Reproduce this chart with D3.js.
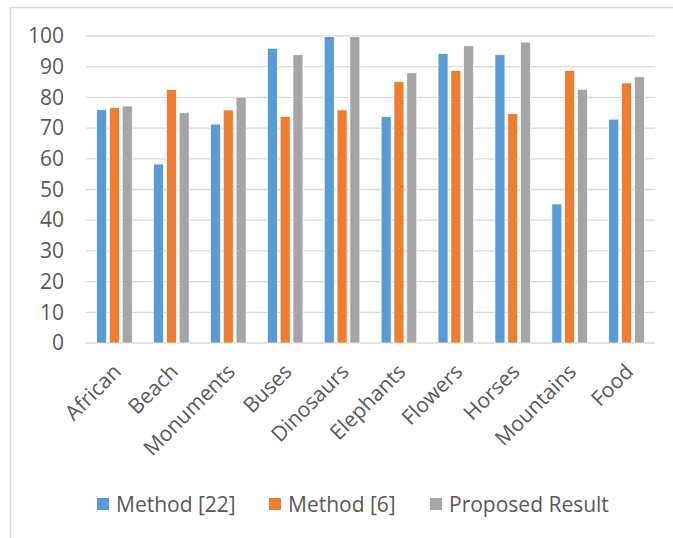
<!DOCTYPE html>
<html>
<head>
<meta charset="utf-8">
<script src="https://cdn.jsdelivr.net/npm/d3@7"></script>
<style>
  body { margin: 0; background: #fff; }
  text { font-family: "Open Sans", sans-serif; fill: #595959; }
</style>
</head>
<body>
<div id="chart"></div>
<script>
// chart values
var categories = ["African", "Beach", "Monuments", "Buses", "Dinosaurs", "Elephants", "Flowers", "Horses", "Mountains", "Food"];
var seriesNames = ["Method [22]", "Method [6]", "Proposed Result"];
var method22 = [76, 58.3, 71.3, 96, 99.8, 73.7, 94.3, 93.9, 45.3, 72.9];
var method6 = [76.7, 82.6, 75.9, 73.8, 75.9, 85.2, 88.8, 74.7, 88.8, 84.7];
var proposed = [77.2, 75, 80.1, 93.9, 99.8, 88, 96.8, 98, 82.6, 86.7];
var yTicks = [0, 10, 20, 30, 40, 50, 60, 70, 80, 90, 100];
var colors = ["#5b9bd5", "#ed7d31", "#a5a5a5"];

var svgWidth = 673;
var svgHeight = 538;

var margin = {
    top: 36,
    bottom: 195,
    left: 86,
    right: 18
};

var chartHeight = svgHeight - margin.top - margin.bottom;
var chartWidth = svgWidth - margin.left - margin.right;

var svg = d3.select("#chart")
        .append("svg")
        .attr("height", svgHeight)
        .attr("width", svgWidth);

// outer frame (runs off the right and bottom edge in the reference)
svg.append("rect")
    .attr("x", 10.5)
    .attr("y", 7.5)
    .attr("width", 720)
    .attr("height", 600)
    .attr("fill", "none")
    .attr("stroke", "#d9d9d9")
    .attr("stroke-width", 1.5);

var chartGroup = svg.append("g")
        .attr("transform", `translate(${margin.left}, ${margin.top})`);

var data = categories.map(function(c, i) {
    return { category: c, values: [method22[i], method6[i], proposed[i]] };
});

var x0 = d3.scaleBand()
        .domain(categories)
        .range([0, chartWidth])
        .paddingInner(0.374)
        .paddingOuter(0.187);

var x1 = d3.scaleBand()
        .domain(d3.range(seriesNames.length))
        .range([0, x0.bandwidth()])
        .paddingInner(0.22);

var yLinearScale = d3.scaleLinear()
        .domain([0, 100])
        .range([chartHeight, 0]);

// gridlines
chartGroup.append("g")
    .selectAll("line")
    .data(yTicks)
    .enter()
    .append("line")
    .attr("x1", 0)
    .attr("x2", chartWidth)
    .attr("y1", d => yLinearScale(d))
    .attr("y2", d => yLinearScale(d))
    .attr("stroke", "#d9d9d9")
    .attr("stroke-width", 1.3);

// y axis labels
var leftAxis = d3.axisLeft(yLinearScale)
        .tickValues(yTicks)
        .tickSize(0)
        .tickPadding(22);

var yAxis = chartGroup.append("g")
    .call(leftAxis);
yAxis.select(".domain").remove();
yAxis.selectAll("text")
    .attr("font-size", 21)
    .attr("font-family", "Open Sans")
    .attr("fill", "#595959");

// bars
var groups = chartGroup.selectAll(".group")
        .data(data)
        .enter()
        .append("g")
        .attr("class", "group")
        .attr("transform", d => `translate(${x0(d.category)}, 0)`);

groups.selectAll("rect")
    .data(d => d.values)
    .enter()
    .append("rect")
    .attr("x", (d, i) => x1(i))
    .attr("width", x1.bandwidth())
    .attr("y", d => yLinearScale(d))
    .attr("height", d => chartHeight - yLinearScale(d))
    .attr("fill", (d, i) => colors[i])
    .attr("stroke", "#fff")
    .attr("stroke-width", 0.7);

// category labels, rotated
chartGroup.append("g")
    .selectAll("text")
    .data(categories)
    .enter()
    .append("text")
    .attr("transform", d => `translate(${x0(d) + x0.bandwidth() / 2 + 8}, ${chartHeight + 30}) rotate(-45)`)
    .attr("text-anchor", "end")
    .attr("font-size", 21)
    .text(d => d);

// legend
var legendX = [97, 269, 430];
var legend = svg.append("g");
seriesNames.forEach(function(name, i) {
    legend.append("rect")
        .attr("x", legendX[i])
        .attr("y", 498)
        .attr("width", 12)
        .attr("height", 12)
        .attr("fill", colors[i]);
    legend.append("text")
        .attr("x", legendX[i] + 19)
        .attr("y", 512)
        .attr("font-size", 21)
        .text(name);
});
</script>
</body>
</html>
